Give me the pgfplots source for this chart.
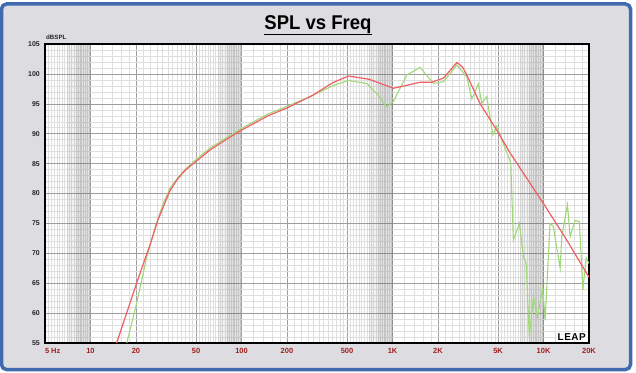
\documentclass[border=0pt]{standalone}
\usepackage{fontspec}
\setmainfont{Liberation Sans}
\usepackage{graphicx}
\usepackage{pgfplots}
\pgfplotsset{compat=1.18}
\definecolor{bgray}{RGB}{221,221,225}
\definecolor{bblue}{RGB}{65,105,175}
\definecolor{tickred}{RGB}{160,30,30}
\definecolor{curvered}{RGB}{240,95,100}
\definecolor{curvegreen}{RGB}{160,215,120}
\begin{document}
\begin{tikzpicture}[x=1bp,y=1bp]
\useasboundingbox (0,0) rectangle (636,372);
\fill[white] (0,0) rectangle (636,372);
\fill[bgray,rounded corners=5bp] (1.5,2.5) rectangle (630.5,368);
\draw[bblue,line width=3.5bp,rounded corners=5bp] (1.5,2.5) rectangle (630.5,368);
\node[anchor=base,inner sep=0pt] at (318,343) {\scalebox{0.93}[1]{\fontsize{20}{22}\selectfont\bfseries\underline{SPL vs Freq}}};
\node[anchor=base west,inner sep=0pt,text=black!85] at (46,333) {\fontsize{6.2}{7}\selectfont\bfseries dBSPL};
\begin{axis}[
  at={(45bp,29bp)}, anchor=south west,
  scale only axis, width=544bp, height=299bp,
  xmode=log, xmin=5, xmax=20000, ymin=55, ymax=105,
  axis background/.style={fill=white},
  axis line style={black,line width=1.4bp},
  major tick length=0pt, minor tick length=0pt,
  grid=both,
  major grid style={draw=black!38,line width=0.6bp},
  minor grid style={draw=black!13,line width=0.45bp},
  xtick={5,10,20,50,100,200,500,1000,2000,5000,10000,20000},
  xticklabels={\rlap{5 Hz},10,20,50,100,200,500,1K,2K,5K,10K,20K},
  minor xtick={5.25,5.5,5.75,6,6.25,6.5,6.75,7,7.25,7.5,7.75,8,8.25,8.5,8.75,9,9.25,9.5,9.75,
    12,14,16,18,22.5,25,27.5,30,32.5,35,37.5,40,42.5,45,47.5,52.5,55,57.5,60,62.5,65,67.5,70,72.5,75,77.5,80,82.5,85,87.5,90,92.5,95,97.5,
    120,140,160,180,225,250,275,300,325,350,375,400,425,450,475,525,550,575,600,625,650,675,700,725,750,775,800,825,850,875,900,925,950,975,
    1200,1400,1600,1800,2250,2500,2750,3000,3250,3500,3750,4000,4250,4500,4750,5250,5500,5750,6000,6250,6500,6750,7000,7250,7500,7750,8000,8250,8500,8750,9000,9250,9500,9750,
    12000,14000,16000,18000},
  ytick={55,60,65,70,75,80,85,90,95,100,105},
  yticklabels={55,60,65,70,75,80,85,90,95,100,105},
  minor y tick num=4,
  xticklabel style={font=\fontsize{7.5}{8}\selectfont\bfseries,text=tickred,inner sep=0pt,yshift=-5bp},
  yticklabel style={font=\fontsize{7}{8}\selectfont\bfseries,text=black!85,inner sep=0pt,xshift=-5bp},
]
\addplot[draw=none,fill=black,fill opacity=0.05,forget plot] coordinates {(7,105) (8,105)} \closedcycle;
\addplot[draw=none,fill=black,fill opacity=0.11,forget plot] coordinates {(8,105) (10,105)} \closedcycle;
\addplot[draw=none,fill=black,fill opacity=0.05,forget plot] coordinates {(70,105) (80,105)} \closedcycle;
\addplot[draw=none,fill=black,fill opacity=0.11,forget plot] coordinates {(80,105) (100,105)} \closedcycle;
\addplot[draw=none,fill=black,fill opacity=0.05,forget plot] coordinates {(700,105) (800,105)} \closedcycle;
\addplot[draw=none,fill=black,fill opacity=0.11,forget plot] coordinates {(800,105) (1000,105)} \closedcycle;
\addplot[draw=none,fill=black,fill opacity=0.05,forget plot] coordinates {(7000,105) (8000,105)} \closedcycle;
\addplot[draw=none,fill=black,fill opacity=0.11,forget plot] coordinates {(8000,105) (10000,105)} \closedcycle;
% green measured
\addplot[curvegreen,line width=1.1bp] coordinates {
(17.4,55) (20.2,61.6) (23.6,69.4) (27,74.6) (30.4,78.4) (33.5,80.8) (37.2,82.4) (42,83.9) (48,85.3) (62,87.6)
(100,90.9) (150,93.3) (180,94.1) (280,96.1) (400,98.0) (510,98.9) (675,98.4)
(800,96.5) (916,94.5) (1014,95.4) (1242,99.8) (1522,101.1) (1866,98.4) (2174,98.7)
(2666,101.5) (3104,99.5) (3350,95.8) (3700,98.3) (3900,95.1) (4207,96.2) (4613,89.8)
(4898,91.3) (5210,89.5) (5850,86.2) (6070,85.05) (6310,72.2) (6920,75.0) (7360,69.4)
(7670,68.3) (8050,56.1) (8570,62.7) (9100,59.4) (9880,64.1) (10240,58.8) (11040,75.0)
(11600,74.5) (12880,67.5) (13200,72.8) (14390,78.1) (15000,72.8) (16180,75.5)
(17270,75.3) (18200,63.9) (19160,69.2) (20000,68.3)
};
% red model
\addplot[curvered,line width=1.2bp] coordinates {
(14.9,55) (20.2,65.0) (25,71.7) (28,75.6) (30.4,77.8) (33.5,80.4) (37.2,82.2) (42,83.8) (48,85.0) (62,87.3)
(80,89.1) (100,90.6) (150,93.0) (200,94.3) (300,96.5) (400,98.5) (510,99.65) (700,99.1)
(1014,97.6) (1200,98.0) (1522,98.6) (1818,98.6) (2174,99.3) (2450,100.8) (2666,101.9) (2900,101.2)
(3104,99.8) (3802,95.0) (4900,90.6) (6000,86.8) (8000,82.0) (10000,78.3)
(14260,72.2) (20000,66.0)
};
\end{axis}
\node[anchor=base east,fill=white,inner sep=1bp] at (587,32) {\fontsize{10}{11}\selectfont\bfseries L\kern0.5bp E\kern0.5bp A\kern0.5bp P};
\end{tikzpicture}
\end{document}
